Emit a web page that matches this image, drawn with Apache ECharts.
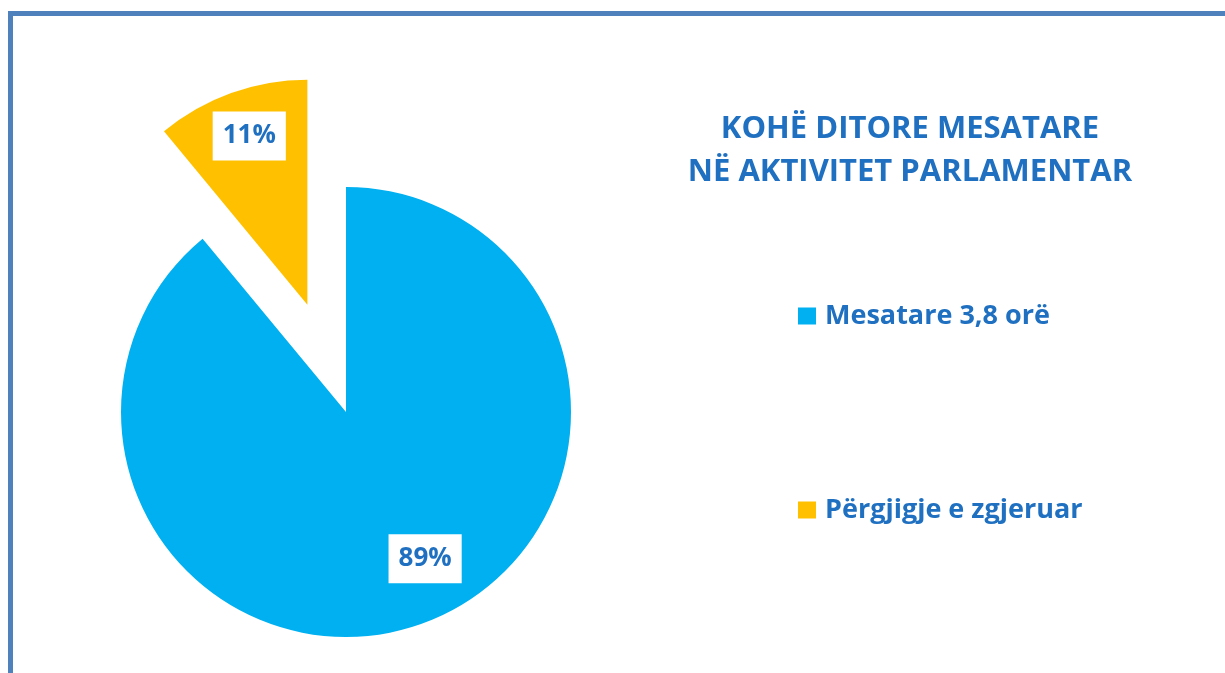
<!DOCTYPE html>
<html>
<head>
<meta charset="utf-8">
<script src="https://cdn.jsdelivr.net/npm/echarts@6/dist/echarts.min.js"></script>
<style>
  html, body { margin: 0; padding: 0; background: #fff; }
  #frame {
    position: absolute; left: 8px; top: 11px; width: 1217px; height: 662px;
    border-left: 5px solid #4f81bd; border-top: 5px solid #4f81bd;
    box-sizing: border-box;
  }
  #chart { position: absolute; left: 0; top: 0; width: 1225px; height: 673px; }
</style>
</head>
<body>
<div id="frame"></div>
<div id="chart"></div>
<script>
// kategoritë dhe vlerat (%)
const categories = ["Mesatare 3,8 orë", "Përgjigje e zgjeruar"];
const values = [89, 11];
const colors = ["#00b0f0", "#ffc000"];
// zhvendosja e etiketave nga pozicioni "inside"
const labelShift = [[40, 38], [-19, -60]];

const textBlue = "#1f70c1";
const font = "'Open Sans', 'Liberation Sans', sans-serif";

const myChart = echarts.init(document.getElementById("chart"));

const option = {
  animation: false,
  title: {
    text: "KOHË DITORE MESATARE\nNË AKTIVITET PARLAMENTAR",
    left: 910,
    top: 108,
    padding: 0,
    textAlign: "center",
    textStyle: {
      color: textBlue,
      fontFamily: font,
      fontWeight: "bold",
      fontSize: 31,
      lineHeight: 43,
    },
  },
  legend: {
    orient: "vertical",
    left: 798,
    top: 301,
    padding: 0,
    icon: "rect",
    itemWidth: 18,
    itemHeight: 17,
    itemGap: 164,
    selectedMode: false,
    data: categories,
    textStyle: {
      color: textBlue,
      fontFamily: font,
      fontWeight: "bold",
      fontSize: 27,
      lineHeight: 30,
      padding: [0, 0, 0, 4],
    },
  },
  series: [
    {
      type: "pie",
      center: [346, 412],
      radius: [0, 225],
      startAngle: 90,
      clockwise: true,
      selectedMode: "single",
      selectedOffset: 114,
      silent: true,
      emphasis: { scale: false },
      select: { itemStyle: { borderWidth: 0 } },
      label: {
        show: true,
        position: "inside",
        formatter: "{c}%",
        color: textBlue,
        fontFamily: font,
        fontWeight: "bold",
        fontSize: 26,
        lineHeight: 30,
        backgroundColor: "#ffffff",
        padding: [10, 10, 9, 10],
      },
      labelLine: { show: false },
      labelLayout: function (params) {
        const s = labelShift[params.dataIndex];
        return { dx: s[0], dy: s[1] };
      },
      data: categories.map(function (name, i) {
        return {
          name: name,
          value: values[i],
          selected: i === 1,
          itemStyle: { color: colors[i] },
        };
      }),
    },
  ],
};

myChart.setOption(option);
</script>
</body>
</html>
